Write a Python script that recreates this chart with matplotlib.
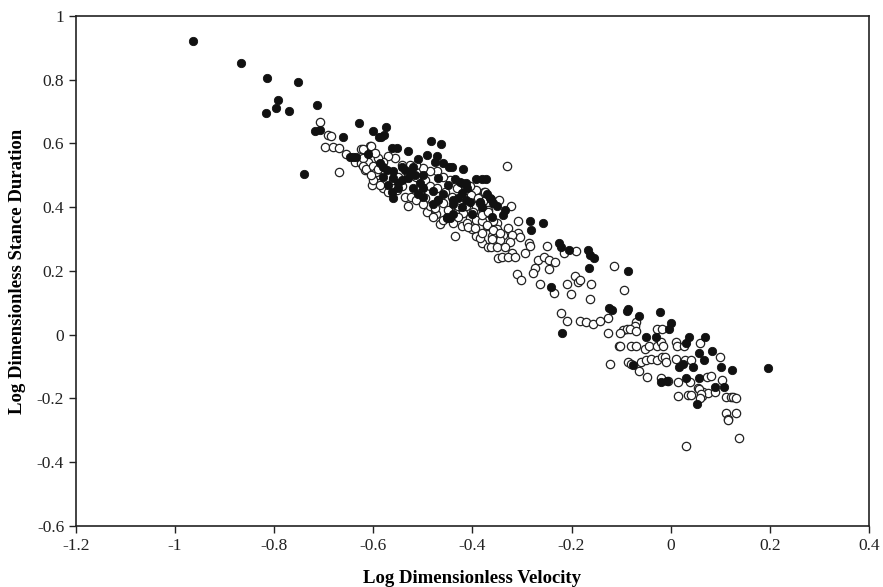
import numpy as np
import matplotlib as mpl
import matplotlib.pyplot as plt

mpl.rcParams['font.family'] = ['Liberation Serif', 'DejaVu Serif']

# filled markers (log dimensionless velocity, log dimensionless stance duration)
filled_x = [-0.963, -0.867, -0.815, -0.751, -0.792, -0.796, -0.816, -0.770, -0.714, -0.718,
            -0.708, -0.661, -0.628, -0.600, -0.589, -0.647, -0.640, -0.635, -0.611, -0.739,
            -0.575, -0.585, -0.579, -0.563, -0.553, -0.529, -0.483, -0.464, -0.492, -0.509,
            -0.476, -0.460, -0.448, -0.442, -0.418, -0.392, -0.381, -0.373, -0.452, -0.422,
            -0.412, -0.363, -0.358, -0.334, -0.338, -0.284, -0.258, -0.281, -0.225, -0.222,
            -0.205, -0.166, -0.163, -0.155, -0.242, -0.164, -0.087, -0.220, -0.124, -0.119,
            -0.088, -0.086, -0.063, -0.021, 0.001, -0.003, -0.049, -0.030, 0.032, 0.038,
            0.069, 0.058, 0.068, 0.084, 0.101, 0.123, -0.075, 0.017, 0.024, 0.045,
            -0.020, -0.008, 0.030, 0.057, 0.089, 0.108, 0.196, 0.054,
            -0.472, -0.435, -0.425, -0.543, -0.536, -0.523, -0.516, -0.587, -0.580, -0.573,
            -0.560, -0.550, -0.560, -0.499, -0.469, -0.439, -0.405, -0.385, -0.365, -0.351,
            -0.580, -0.560, -0.563, -0.519, -0.506, -0.543, -0.452, -0.445, -0.422, -0.412,
            -0.550, -0.520, -0.500, -0.480, -0.460, -0.440, -0.420, -0.400, -0.450, -0.470,
            -0.500, -0.530, -0.570, -0.430, -0.380, -0.360, -0.370, -0.480, -0.510, -0.440,
            -0.410]
filled_y = [0.921, 0.852, 0.805, 0.791, 0.736, 0.710, 0.695, 0.701, 0.720, 0.638,
            0.642, 0.621, 0.665, 0.640, 0.619, 0.556, 0.556, 0.556, 0.566, 0.504,
            0.650, 0.621, 0.627, 0.585, 0.587, 0.577, 0.607, 0.597, 0.563, 0.550,
            0.541, 0.538, 0.527, 0.527, 0.519, 0.488, 0.488, 0.488, 0.365, 0.475,
            0.475, 0.425, 0.414, 0.391, 0.376, 0.356, 0.349, 0.329, 0.289, 0.274,
            0.266, 0.266, 0.250, 0.240, 0.151, 0.208, 0.199, 0.004, 0.085, 0.078,
            0.075, 0.081, 0.060, 0.072, 0.036, 0.018, -0.008, -0.006, -0.027, -0.006,
            -0.006, -0.058, -0.079, -0.050, -0.102, -0.111, -0.095, -0.100, -0.092, -0.102,
            -0.150, -0.145, -0.135, -0.135, -0.163, -0.163, -0.103, -0.217,
            0.559, 0.488, 0.480, 0.527, 0.517, 0.507, 0.501, 0.538, 0.527, 0.517,
            0.491, 0.475, 0.430, 0.433, 0.423, 0.423, 0.417, 0.417, 0.428, 0.402,
            0.496, 0.512, 0.449, 0.527, 0.475, 0.485, 0.370, 0.365, 0.444, 0.423,
            0.460, 0.460, 0.460, 0.450, 0.440, 0.410, 0.400, 0.380, 0.470, 0.490,
            0.500, 0.490, 0.470, 0.430, 0.400, 0.370, 0.440, 0.410, 0.440, 0.380,
            0.460]

# open markers
open_x = [-0.708, -0.692, -0.685, -0.698, -0.682, -0.669, -0.655, -0.636, -0.625, -0.606,
          -0.669, -0.602, -0.605, -0.621, -0.529, -0.466, -0.492, -0.474, -0.435, -0.392,
          -0.380, -0.368, -0.331, -0.376, -0.346, -0.323, -0.308, -0.328, -0.308, -0.304,
          -0.338, -0.321, -0.345, -0.324, -0.286, -0.284, -0.385, -0.363, -0.351, -0.334,
          -0.321, -0.349, -0.340, -0.328, -0.314, -0.293, -0.250, -0.215, -0.190, -0.267,
          -0.256, -0.245, -0.233, -0.245, -0.274, -0.277, -0.311, -0.301, -0.264, -0.209,
          -0.193, -0.186, -0.183, -0.160, -0.114, -0.095, -0.162, -0.201, -0.235, -0.221,
          -0.210, -0.182, -0.171, -0.156, -0.143, -0.126, -0.126, -0.104, -0.122, -0.070,
          -0.072, -0.096, -0.089, -0.081, -0.070, -0.027, -0.018, -0.079, -0.070, -0.052,
          -0.043, -0.028, -0.020, -0.015, 0.010, 0.012, 0.027, 0.060, 0.099, -0.086,
          -0.079, -0.059, -0.049, -0.039, -0.028, -0.018, -0.012, -0.010, 0.011, 0.029,
          0.042, -0.063, -0.048, -0.020, -0.005, 0.014, 0.040, 0.073, 0.081, 0.103,
          0.015, 0.036, 0.042, 0.056, 0.066, 0.064, 0.076, 0.089, 0.112, 0.121,
          0.126, 0.138, 0.032, 0.112, 0.132, 0.115, 0.116, 0.131, 0.057, 0.062,
          0.059, -0.102, -0.102,
          -0.624, -0.617, -0.610, -0.603, -0.593, -0.588, -0.580, -0.570, -0.553, -0.543,
          -0.536, -0.523, -0.513, -0.506, -0.496, -0.486, -0.476, -0.469, -0.459, -0.449,
          -0.435, -0.429, -0.418, -0.405, -0.392, -0.381, -0.375, -0.368, -0.378, -0.375,
          -0.392, -0.405, -0.418, -0.432, -0.445, -0.459, -0.472, -0.486, -0.499, -0.513,
          -0.526, -0.543, -0.556, -0.570, -0.580, -0.590, -0.597, -0.610, -0.620, -0.600,
          -0.587, -0.560, -0.550, -0.529, -0.513, -0.496, -0.486, -0.472, -0.455, -0.442,
          -0.425, -0.408, -0.392, -0.378,
          -0.500, -0.480, -0.460, -0.440, -0.420, -0.400, -0.380, -0.360, -0.370, -0.350,
          -0.350, -0.360, -0.410, -0.430,
          -0.412, -0.402, -0.388, -0.385, -0.412, -0.398, -0.381, -0.368, -0.358, -0.371,
          -0.408, -0.395, -0.358, -0.345,
          -0.620, -0.615, -0.600, -0.595, -0.605, -0.590]
open_y = [0.667, 0.626, 0.624, 0.588, 0.588, 0.585, 0.567, 0.543, 0.583, 0.592,
          0.510, 0.471, 0.593, 0.582, 0.402, 0.347, 0.384, 0.379, 0.308, 0.308,
          0.287, 0.276, 0.529, 0.446, 0.423, 0.404, 0.358, 0.334, 0.318, 0.306,
          0.313, 0.313, 0.297, 0.292, 0.289, 0.278, 0.303, 0.274, 0.274, 0.274,
          0.256, 0.242, 0.243, 0.245, 0.243, 0.256, 0.278, 0.256, 0.261, 0.234,
          0.245, 0.234, 0.229, 0.206, 0.208, 0.193, 0.191, 0.170, 0.159, 0.159,
          0.184, 0.166, 0.172, 0.159, 0.216, 0.140, 0.111, 0.128, 0.132, 0.067,
          0.042, 0.044, 0.041, 0.033, 0.044, 0.053, 0.006, -0.037, -0.092, 0.041,
          0.027, 0.015, 0.017, 0.017, 0.010, 0.017, 0.017, -0.037, -0.037, -0.045,
          -0.035, -0.037, -0.022, -0.037, -0.022, -0.037, -0.037, -0.025, -0.071, -0.085,
          -0.092, -0.085, -0.079, -0.077, -0.079, -0.071, -0.069, -0.085, -0.077, -0.079,
          -0.079, -0.113, -0.134, -0.135, -0.145, -0.147, -0.147, -0.132, -0.129, -0.142,
          -0.192, -0.189, -0.189, -0.168, -0.179, -0.192, -0.182, -0.179, -0.194, -0.194,
          -0.194, -0.325, -0.348, -0.247, -0.247, -0.265, -0.267, -0.199, -0.171, -0.187,
          -0.199, 0.004, -0.037,
          0.538, 0.517, 0.522, 0.512, 0.501, 0.538, 0.459, 0.449, 0.454, 0.465,
          0.433, 0.433, 0.423, 0.444, 0.428, 0.402, 0.397, 0.423, 0.412, 0.391,
          0.381, 0.402, 0.381, 0.365, 0.360, 0.355, 0.381, 0.391, 0.418, 0.449,
          0.454, 0.465, 0.470, 0.459, 0.486, 0.496, 0.512, 0.512, 0.522, 0.533,
          0.533, 0.533, 0.554, 0.559, 0.543, 0.554, 0.569, 0.543, 0.554, 0.486,
          0.470, 0.486, 0.496, 0.501, 0.496, 0.486, 0.465, 0.459, 0.449, 0.433,
          0.423, 0.412, 0.402, 0.391,
          0.410, 0.370, 0.360, 0.350, 0.340, 0.330, 0.320, 0.310, 0.340, 0.350,
          0.330, 0.300, 0.350, 0.370,
          0.454, 0.438, 0.428, 0.412, 0.402, 0.386, 0.376, 0.386, 0.355, 0.344,
          0.339, 0.334, 0.329, 0.318,
          0.530, 0.520, 0.530, 0.510, 0.500, 0.520]

fig = plt.figure(figsize=(8.83, 5.87), dpi=100)
ax = fig.add_axes([0.086, 0.104, 0.898, 0.869])

ax.scatter(open_x, open_y, s=36, facecolors='white', edgecolors='#222222', linewidths=0.9, zorder=2)
ax.scatter(filled_x, filled_y, s=36, facecolors='#111111', edgecolors='#111111', linewidths=0.6, zorder=3)

ax.set_xlim(-1.2, 0.4)
ax.set_ylim(-0.6, 1.0)
ax.set_xticks(np.arange(-1.2, 0.41, 0.2))
ax.set_xticklabels(['-1.2', '-1', '-0.8', '-0.6', '-0.4', '-0.2', '0', '0.2', '0.4'])
ax.set_yticks(np.arange(-0.6, 1.01, 0.2))
ax.set_yticklabels(['-0.6', '-0.4', '-0.2', '0', '0.2', '0.4', '0.6', '0.8', '1'])
ax.tick_params(direction='out', length=5, width=1, labelsize=12.5, colors='#222222')
for sp in ax.spines.values():
    sp.set_linewidth(1.2)
    sp.set_color('#222222')

ax.set_xlabel('Log Dimensionless Velocity', fontsize=13.5, fontweight='bold', labelpad=12)
ax.set_ylabel('Log Dimensionless Stance Duration', fontsize=13.5, fontweight='bold', labelpad=8)

fig.savefig('out.png', dpi=100)
